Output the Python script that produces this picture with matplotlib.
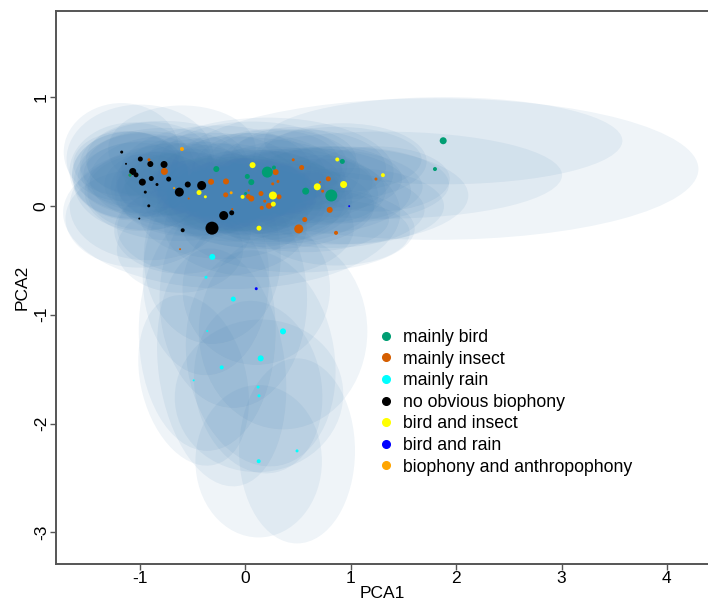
import matplotlib
matplotlib.use("Agg")
import matplotlib.pyplot as plt
from matplotlib.patches import Ellipse
from matplotlib.lines import Line2D

plt.rcParams['font.family'] = ['Liberation Sans', 'DejaVu Sans']
plt.rcParams['axes.unicode_minus'] = False

# group labels and colours (legend order)
groups = ["mainly bird", "mainly insect", "mainly rain", "no obvious biophony",
          "bird and insect", "bird and rain", "biophony and anthropophony"]
colors = ["#009E73", "#D55E00", "#00FFFF", "#000000", "#FFFF00", "#0000FF", "#FFA500"]

# recordings: PCA scores, group index, dot size, ellipse (full width, height, angle)
pca1 = [
    # no obvious biophony
    -1.174, -1.133, -0.997, -0.902, -0.772, -1.069, -1.038, -0.978, -0.893, -0.839, -0.728,
    -0.950, -0.917, -1.007, -0.595, -0.627, -0.547, -0.415, -0.206, -0.130, -0.317,
    # mainly insect
    -0.915, -0.769, -1.095, -0.538, -0.326, -0.184, -0.187, -0.125, 0.287, 0.259, 0.309,
    0.148, 0.028, 0.056, 0.031, 0.319, 0.224, 0.155, 0.183, 0.454, 0.534, 0.563, 0.506,
    0.787, 0.708, 0.733, 0.800, 0.860, 1.239, -0.620,
    # mainly bird
    -1.095, -0.276, 0.018, 0.056, 0.271, 0.208, 0.002, 0.572, 0.815, 0.920, 1.877, 1.799,
    # bird and insect
    -0.440, -0.380, 0.068, -0.027, 0.261, 0.265, 0.129, 0.872, 0.682, 0.932, 1.305,
    # biophony and anthropophony
    -0.602, -0.677, -0.135,
    # bird and rain
    0.103, 0.985,
    # mainly rain
    -0.314, -0.374, -0.115, -0.362, 0.357, 0.145, -0.225, -0.491, 0.121, 0.129, 0.490, 0.126,
]
pca2 = [
    0.494, 0.386, 0.430, 0.384, 0.380, 0.316, 0.285, 0.218, 0.251, 0.196, 0.246,
    0.126, 0.000, -0.117, -0.224, 0.126, 0.196, 0.187, -0.089, -0.064, -0.205,
    0.423, 0.316, 0.282, 0.067, 0.221, 0.224, 0.101, -0.030, 0.310, 0.202, 0.224,
    0.113, 0.086, 0.067, 0.141, 0.083, 0.000, -0.018, 0.043, 0.423, 0.352, -0.126, -0.212,
    0.248, 0.218, 0.135, -0.037, -0.248, 0.246, -0.398,
    0.282, 0.338, 0.270, 0.218, 0.352, 0.310, 0.113, 0.135, 0.095, 0.408, 0.598, 0.338,
    0.122, 0.083, 0.374, 0.083, 0.095, 0.016, -0.205, 0.426, 0.175, 0.196, 0.282,
    0.522, 0.163, 0.120,
    -0.761, -0.003,
    -0.469, -0.656, -0.856, -1.150, -1.153, -1.401, -1.484, -1.603, -1.665, -1.745, -2.251, -2.346,
]
group = ([3] * 21 + [1] * 30 + [0] * 12 + [4] * 11 + [6] * 3 + [5] * 2 + [2] * 12)
dot_size = [
    3, 2, 5, 6, 7, 7, 5, 7, 5, 3, 5, 3, 3, 2, 4, 9, 6, 9, 9, 5, 13,
    3, 7, 3, 2, 6, 6, 5, 2, 6, 3, 3, 5, 5, 6, 2, 5, 6, 4, 3, 3, 5, 5, 9, 5, 2, 3, 6, 4, 3, 2,
    3, 6, 5, 6, 4, 11, 3, 7, 12, 5, 7, 4,
    5, 3, 6, 4, 8, 5, 5, 4, 7, 7, 4,
    4, 2, 3,
    3, 2,
    6, 3, 5, 2, 6, 6, 4, 2, 3, 3, 3, 4,
]
ell_w = [
    1.1, 1.0, 1.4, 1.2, 1.6, 1.2, 1.0, 1.3, 1.4, 1.0, 1.5, 1.1, 1.5, 1.4, 1.3, 1.8, 1.2, 1.6, 1.6, 3.2, 1.8,
    1.2, 1.6, 1.1, 1.3, 1.8, 1.4, 1.3, 1.2, 1.6, 1.0, 1.2, 1.5, 1.3, 1.8, 1.0, 1.4, 2.0, 1.2, 1.1,
    1.2, 1.6, 1.6, 2.2, 1.4, 1.0, 1.2, 1.8, 1.4, 1.4, 1.2,
    1.1, 1.8, 1.5, 1.8, 1.3, 2.4, 1.2, 2.0, 2.6, 1.6, 3.4, 5.0,
    1.6, 1.2, 1.8, 1.4, 2.0, 1.5, 1.8, 1.6, 2.0, 2.0, 3.4,
    1.4, 1.2, 1.6,
    1.4, 1.8,
    1.3, 1.2, 1.4, 1.3, 1.6, 1.4, 1.2, 1.0, 1.2, 1.6, 1.1, 1.2,
]
ell_h = [
    0.9, 0.6, 1.0, 0.6, 0.8, 0.9, 0.6, 0.9, 0.7, 0.6, 0.8, 0.7, 1.0, 0.9, 0.8, 0.9, 0.6, 0.8, 0.8, 1.4, 0.9,
    0.7, 0.8, 0.8, 0.7, 0.9, 0.7, 0.7, 0.6, 0.8, 0.6, 0.6, 0.8, 0.7, 0.9, 0.6, 0.7, 0.8, 0.6, 0.6,
    0.6, 0.7, 0.6, 0.8, 0.6, 0.5, 0.6, 0.7, 0.6, 0.6, 0.8,
    0.8, 0.8, 0.8, 0.9, 0.7, 1.0, 0.7, 0.8, 0.9, 0.7, 0.8, 1.3,
    0.8, 0.7, 0.8, 0.7, 0.9, 0.7, 0.9, 0.6, 0.7, 0.7, 0.8,
    0.8, 0.7, 0.7,
    1.4, 0.7,
    1.6, 1.8, 2.0, 2.2, 1.8, 2.0, 2.2, 1.6, 1.6, 1.4, 1.7, 1.4,
]
ell_ang = [0] * 82 + [0, 0, 10, 8, 15, 12, 5, 0, 0, 30, 5, 0]

fig = plt.figure(figsize=(7.08, 6.0), dpi=100)
ax = fig.add_axes([0.0787, 0.06, 0.9213, 0.9217])

for x, y, w, h, a in zip(pca1, pca2, ell_w, ell_h, ell_ang):
    ax.add_patch(Ellipse((x, y), w, h, angle=a, facecolor="#4682B4",
                         edgecolor="none", alpha=0.085, zorder=1))

sizes = [(d * 0.72) ** 2 for d in dot_size]
ax.scatter(pca1, pca2, s=sizes, c=[colors[g] for g in group], linewidths=0, zorder=3)

ax.set_xlim(-1.8, 4.39)
ax.set_ylim(-3.29, 1.79)
ax.set_xticks([-1, 0, 1, 2, 3, 4])
ax.set_yticks([-3, -2, -1, 0, 1])
ax.set_xlabel("PCA1", fontsize=12.5, labelpad=0)
ax.set_ylabel("PCA2", fontsize=12.5, labelpad=3)
for lab in ax.get_yticklabels():
    lab.set_rotation(90)
    lab.set_va("center")
ax.tick_params(labelsize=12.5, length=4, width=1, color="#555555", pad=1)
for side in ["left", "bottom", "top"]:
    ax.spines[side].set_color("#555555")
    ax.spines[side].set_linewidth(1.4)
ax.spines["right"].set_visible(False)

handles = [Line2D([], [], marker="o", linestyle="none", color=c, markersize=5.5)
           for c in colors]
fig.legend(handles, groups, loc="upper left", bbox_to_anchor=(377 / 708, 1 - 329 / 600),
           frameon=False, fontsize=12.7, handlelength=1.0, handletextpad=0.45,
           labelspacing=0.26, borderpad=0, borderaxespad=0)

fig.savefig("out.png", dpi=100)
